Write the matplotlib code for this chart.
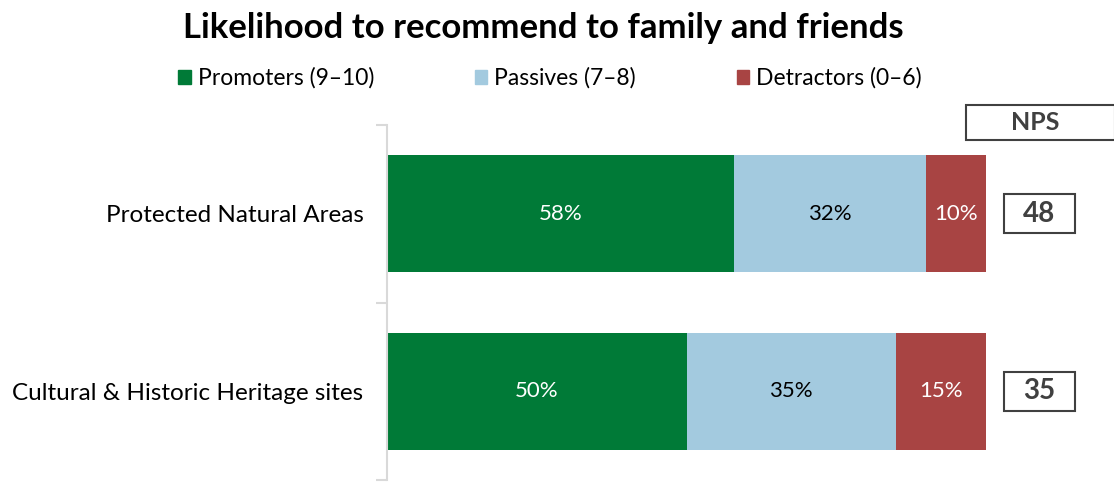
import numpy as np
import matplotlib.pyplot as plt
from matplotlib.patches import Patch, Rectangle

plt.rcParams['font.family'] = ['Lato', 'DejaVu Sans']

# data
categories = ['Protected Natural Areas', 'Cultural & Historic Heritage sites']
promoters = [58, 50]
passives = [32, 35]
detractors = [10, 15]
nps = [48, 35]
series_names = ['Promoters (9\u201310)', 'Passives (7\u20138)', 'Detractors (0\u20136)']
colors = ['#007A37', '#A3CADF', '#A84443']
text_colors = ['white', 'black', 'white']

fig = plt.figure(figsize=(11.14, 4.82), dpi=100)
ax = fig.add_axes([387 / 1114, 2 / 482, 599 / 1114, 355 / 482])

y = np.arange(len(categories))
left = np.zeros(len(categories))
for vals, c, tc in zip([promoters, passives, detractors], colors, text_colors):
    vals = np.array(vals)
    ax.barh(y, vals, left=left, height=0.66, color=c)
    for yi, l, v in zip(y, left, vals):
        ax.text(l + v / 2, yi, f'{v}%', ha='center', va='center', color=tc, fontsize=16)
    left = left + vals

ax.set_xlim(0, 100)
ax.set_ylim(1.5, -0.5)
ax.set_yticks(y)
ax.set_yticklabels(categories, fontsize=17.5)
ax.set_yticks([-0.5, 0.5, 1.5], minor=True)
ax.tick_params(axis='y', which='major', length=0, pad=17)
ax.tick_params(axis='y', which='minor', length=8, color='#D9D9D9', width=1.5)
ax.set_xticks([])
for s in ['top', 'right', 'bottom']:
    ax.spines[s].set_visible(False)
ax.spines['left'].set_color('#D9D9D9')
ax.spines['left'].set_linewidth(1.5)

# NPS boxes
for yi, n in zip(y, nps):
    ax.add_patch(Rectangle((103.0, yi - 0.11), 11.9, 0.22, fc='white', ec='#404040',
                           lw=1.5, clip_on=False))
    ax.text(108.9, yi, str(n), ha='center', va='center', fontsize=20, fontweight='bold',
            color='#404040', clip_on=False)
ax.add_patch(Rectangle((96.6, -0.612), 25, 0.197, fc='white', ec='#404040', lw=1.5,
                       clip_on=False))
ax.text(108.2, -0.514, 'NPS', ha='center', va='center', fontsize=18, fontweight='bold',
        color='#404040', clip_on=False)

fig.suptitle('Likelihood to recommend to family and friends', x=543 / 1114, y=0.975,
             fontsize=25, fontweight='bold')

handles = [Patch(color=c, label=n) for c, n in zip(colors, series_names)]
fig.legend(handles=handles, loc='center', bbox_to_anchor=(550 / 1114, 1 - 78 / 482), ncol=3,
           frameon=False, fontsize=16.5, handlelength=0.55, handleheight=0.55,
           handletextpad=0.3, columnspacing=4.4)

fig.savefig('out.png', dpi=100)
